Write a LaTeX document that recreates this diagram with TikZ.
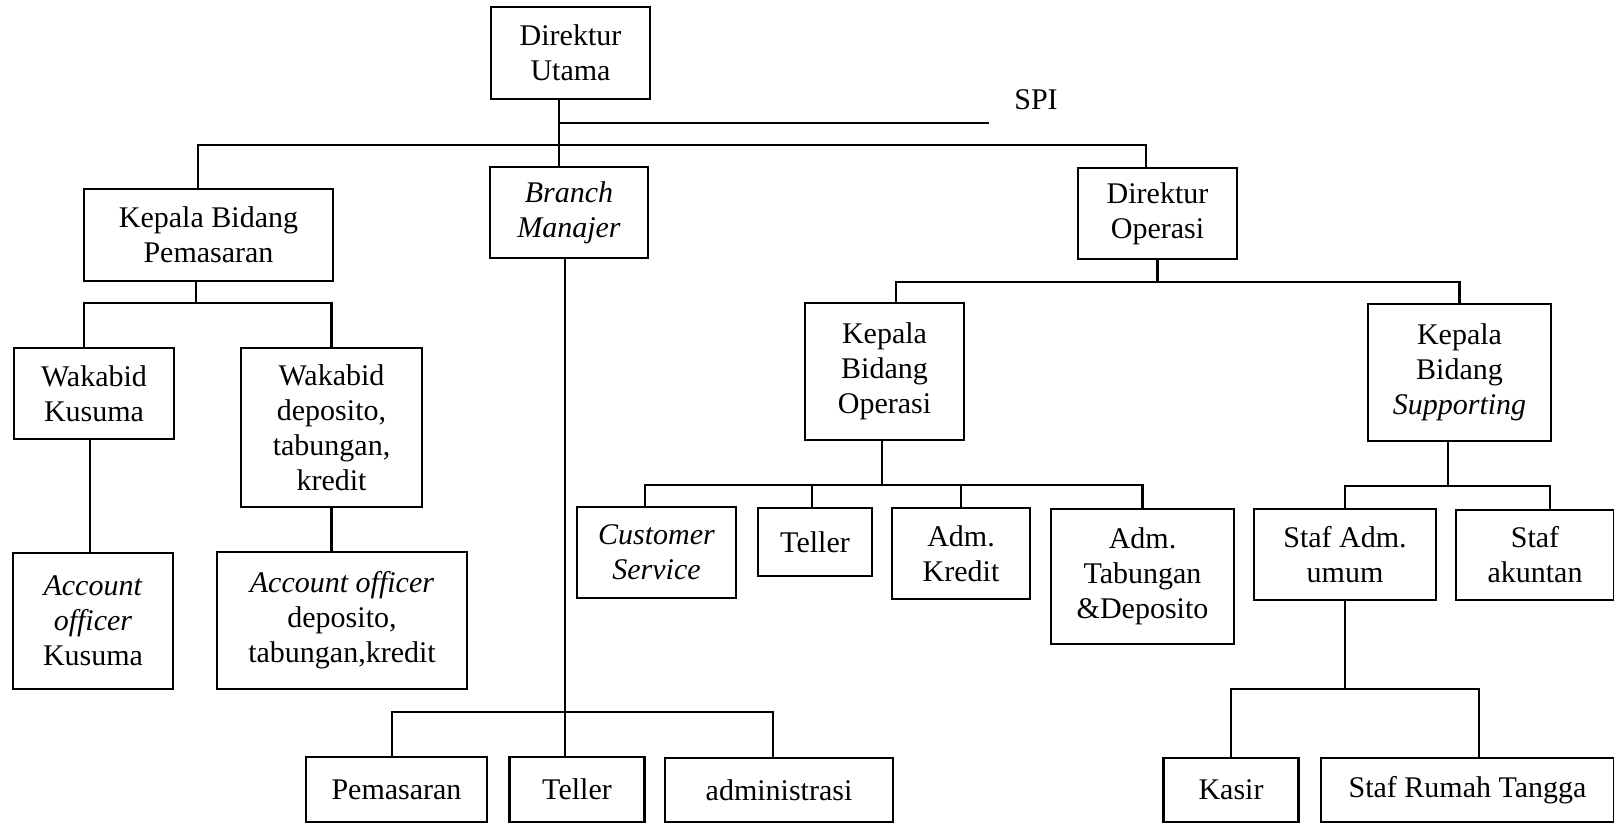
\documentclass[tikz,border=0pt]{standalone}
\usepackage{fontspec}
\setmainfont{Liberation Serif}
\begin{document}
\begin{tikzpicture}[x=1pt,y=-1pt,
  box/.style={draw, line width=2.2pt, inner sep=0pt, align=center,
    font=\fontsize{30}{35}\selectfont},
  conn/.style={line width=2.2pt},
  lbl/.style={inner sep=0pt, font=\fontsize{30}{35}\selectfont}]
\useasboundingbox (0,0) rectangle (1614,826);
% boxes
\node[box, minimum width=159, minimum height=92] (DU) at (570.5,53) {Direktur\\Utama};
\node[box, minimum width=158, minimum height=91] (BM) at (569,212.5) {\textit{Branch}\\\textit{Manajer}};
\node[box, minimum width=249, minimum height=92] (KBP) at (208.5,235) {Kepala Bidang\\Pemasaran};
\node[box, minimum width=159, minimum height=91] (DO) at (1157.5,213.5) {Direktur\\Operasi};
\node[box, minimum width=160, minimum height=91] (WK) at (94,393.5) {Wakabid\\Kusuma};
\node[box, minimum width=181, minimum height=159] (WD) at (331.5,427.5) {Wakabid\\deposito,\\tabungan,\\kredit};
\node[box, minimum width=160, minimum height=136] (AOK) at (93,621) {\textit{Account}\\\textit{officer}\\Kusuma};
\node[box, minimum width=250, minimum height=137] (AOD) at (342,620.5) {\textit{Account officer}\\deposito,\\tabungan,kredit};
\node[box, minimum width=159, minimum height=137] (KBO) at (884.5,371.5) {Kepala\\Bidang\\Operasi};
\node[box, minimum width=183, minimum height=137] (KBS) at (1459.5,372.5) {Kepala\\Bidang\\\textit{Supporting}};
\node[box, minimum width=159, minimum height=91] (CS) at (656.5,552.5) {\textit{Customer}\\\textit{Service}};
\node[box, minimum width=114, minimum height=68] (TL1) at (815,542) {Teller};
\node[box, minimum width=138, minimum height=91] (AK) at (961,553.5) {Adm.\\Kredit};
\node[box, minimum width=183, minimum height=135] (AT) at (1142.5,576.5) {Adm.\\Tabungan\\\&Deposito};
\node[box, minimum width=182, minimum height=91] (SAU) at (1345,554.5) {Staf Adm.\\umum};
\node[box, minimum width=158, minimum height=90] (SAK) at (1535,555) {Staf\\akuntan};
\node[box, minimum width=181, minimum height=65] (PM) at (396.5,789.5) {Pemasaran};
\node[box, minimum width=135, minimum height=65] (TL2) at (577,789.5) {Teller};
\node[box, minimum width=228, minimum height=64] (ADM) at (779,790) {administrasi};
\node[box, minimum width=135, minimum height=64] (KS) at (1231,790) {Kasir};
\node[box, minimum width=293, minimum height=64] (SRT) at (1467.5,790) {Staf Rumah Tangga};
\node[lbl] (SPI) at (1036,100) {SPI};
% junction coordinates
\coordinate (spiL) at (559,123);
\coordinate (spiR) at (989,123);
\coordinate (b1) at (198,145);
\coordinate (b2) at (1146,145);
\coordinate (s1) at (196,303);
\coordinate (m1) at (565,712);
\coordinate (o1) at (1157,282);
\coordinate (p1) at (882,485);
\coordinate (q1) at (1448,486);
\coordinate (r1) at (1345,689);
% connectors
\draw[conn] ([xshift=-11.5pt]DU.south) -- ([xshift=-11.5pt]DU.south |- BM.north);
\draw[conn] (spiL) -- (spiR);
\draw[conn] ([xshift=-10.5pt]KBP.north) -- (b1) -- (b2) -- ([xshift=-11.5pt]DO.north);
\draw[conn] ([xshift=-12.5pt]KBP.south) -- (s1);
\draw[conn] ([xshift=-10pt]WK.north) |- (s1) -| (WD.north);
\draw[conn] ([xshift=-4pt]WK.south) -- ([xshift=-4pt]WK.south |- AOK.north);
\draw[conn] (WD.south) -- (WD.south |- AOD.north);
\draw[conn] ([xshift=-4pt]BM.south) -- ([xshift=-4pt]BM.south |- TL2.north);
\draw[conn] ([xshift=-4.5pt]PM.north) |- (m1) -| ([xshift=-6pt]ADM.north);
\draw[conn] (DO.south) -- (DO.south |- o1);
\draw[conn] ([xshift=11.5pt]KBO.north) |- (o1) -| (KBS.north);
\draw[conn] ([xshift=-2.5pt]KBO.south) -- (p1);
\draw[conn] ([xshift=-11.5pt]CS.north) |- (p1) -| (AT.north);
\draw[conn] ([xshift=-3pt]TL1.north) -- ([xshift=-3pt]TL1.north |- p1);
\draw[conn] (AK.north) -- (AK.north |- p1);
\draw[conn] ([xshift=-11.5pt]KBS.south) -- (q1);
\draw[conn] (SAU.north) |- (q1) -| ([xshift=15pt]SAK.north);
\draw[conn] (SAU.south) -- (r1);
\draw[conn] (KS.north) |- (r1) -| ([xshift=11.5pt]SRT.north);
\end{tikzpicture}
\end{document}
